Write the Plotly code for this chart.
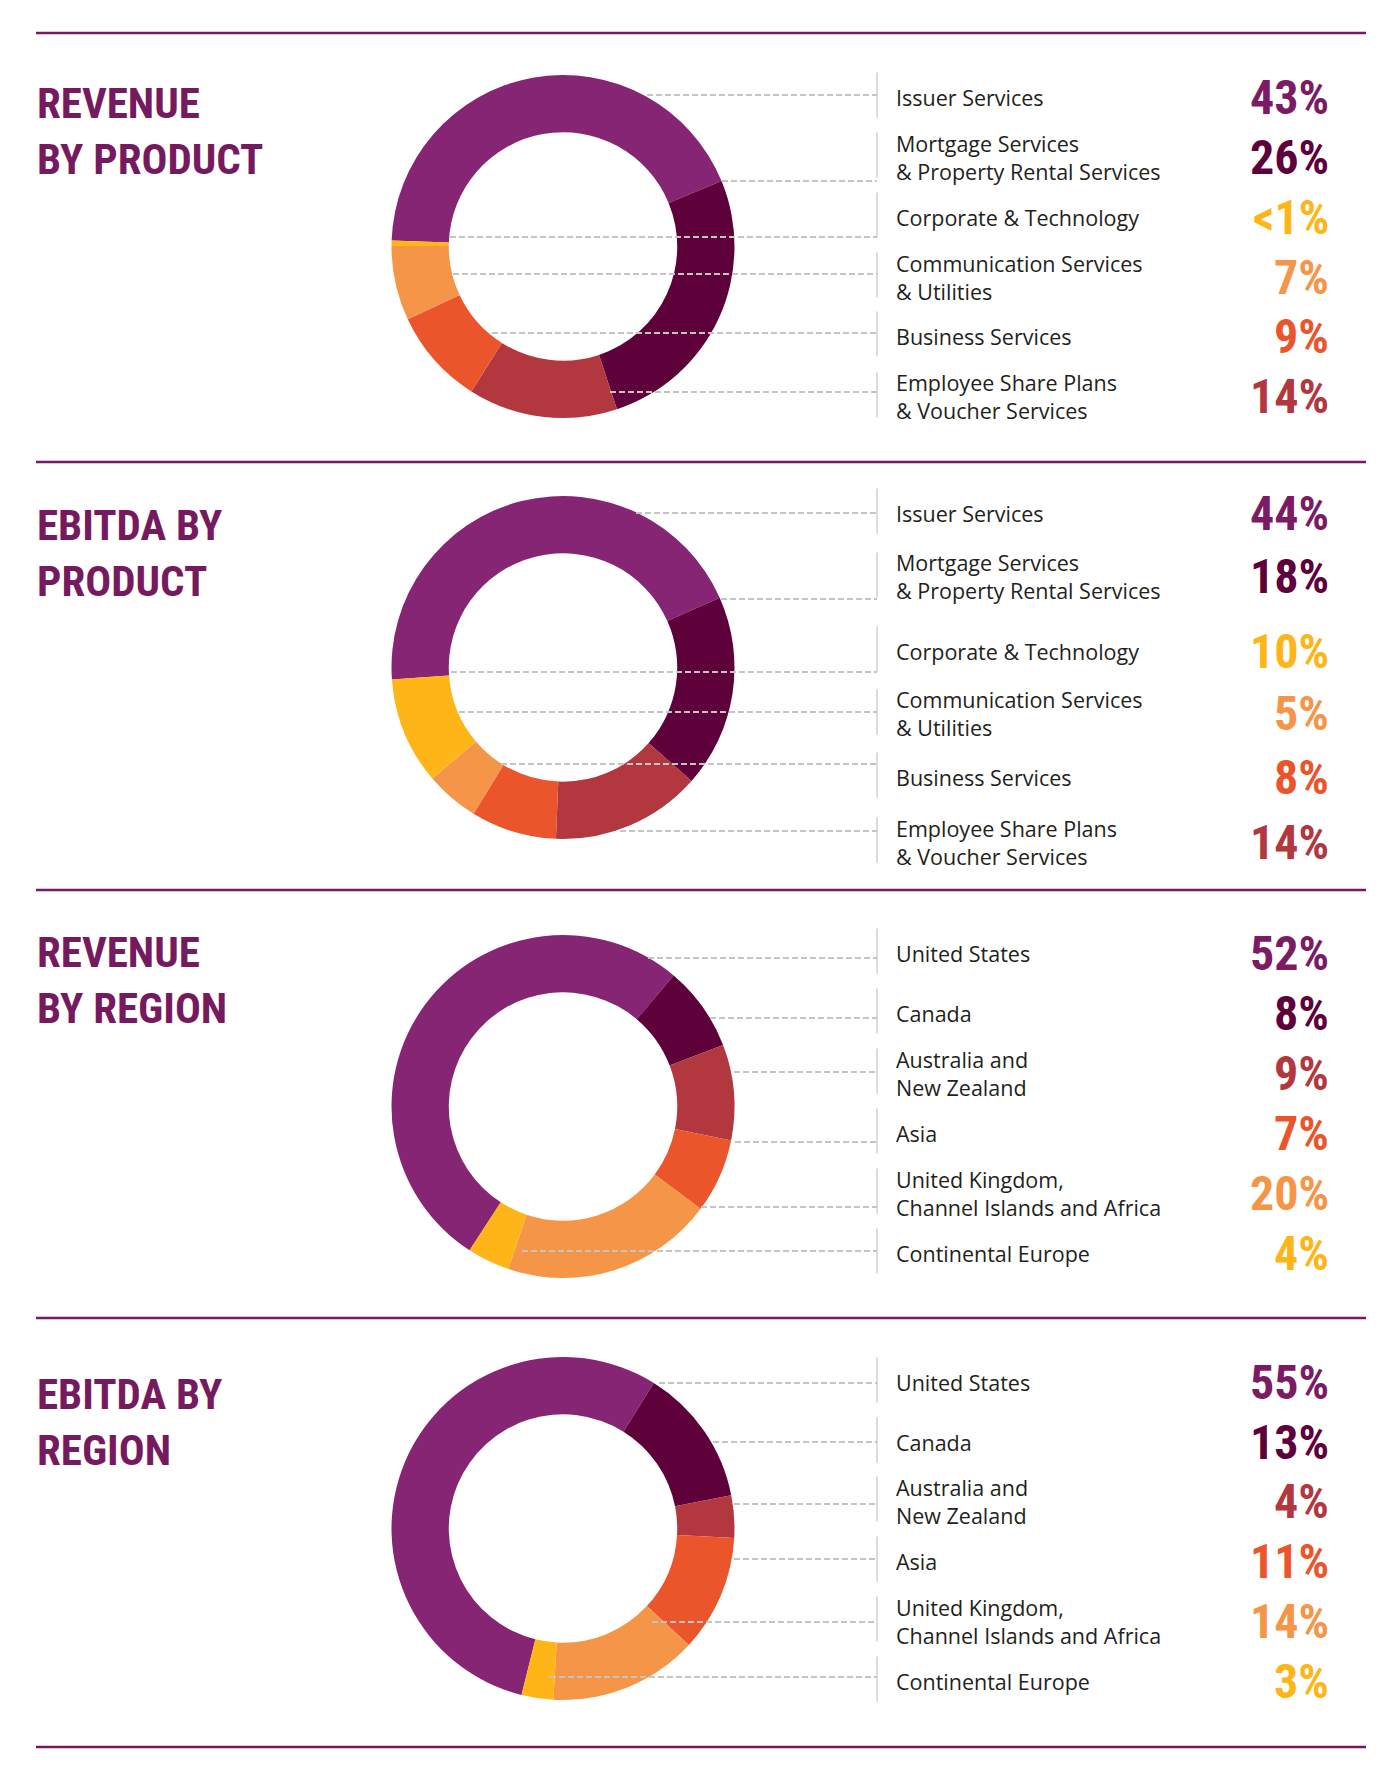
import plotly.graph_objects as go

W, H = 1400, 1778

# ---------------- data ----------------
product_labels = [
    "Issuer Services",
    "Mortgage Services<br>& Property Rental Services",
    "Corporate & Technology",
    "Communication Services<br>& Utilities",
    "Business Services",
    "Employee Share Plans<br>& Voucher Services",
]
region_labels = [
    "United States",
    "Canada",
    "Australia and<br>New Zealand",
    "Asia",
    "United Kingdom,<br>Channel Islands and Africa",
    "Continental Europe",
]

revenue_product = [43, 26, 0.5, 7, 9, 14]
revenue_product_text = ["43%", "26%", "<1%", "7%", "9%", "14%"]

ebitda_product = [44, 18, 10, 5, 8, 14]
ebitda_product_text = ["44%", "18%", "10%", "5%", "8%", "14%"]

revenue_region = [52, 8, 9, 7, 20, 4]
revenue_region_text = ["52%", "8%", "9%", "7%", "20%", "4%"]

ebitda_region = [55, 13, 4, 11, 14, 3]
ebitda_region_text = ["55%", "13%", "4%", "11%", "14%", "3%"]

section_titles = ["REVENUE<br>BY PRODUCT", "EBITDA BY<br>PRODUCT",
                  "REVENUE<br>BY REGION", "EBITDA BY<br>REGION"]

# ---------------- styles ----------------
PURPLE = "#862574"
DARK = "#5E003A"
BRICK = "#B3373E"
ORANGE = "#EB552C"
LIGHT = "#F59548"
YELLOW = "#FDB518"
TITLE_C = "#761A60"
PCT_PURPLE = "#7A1B64"

product_colors = [PURPLE, DARK, YELLOW, LIGHT, ORANGE, BRICK]
region_colors = [PURPLE, DARK, BRICK, ORANGE, LIGHT, YELLOW]
product_ring_order = [0, 1, 5, 4, 3, 2]   # clockwise order around the ring
region_ring_order = [0, 1, 2, 3, 4, 5]

sections = [
    dict(title=section_titles[0], labels=product_labels, values=revenue_product,
         text=revenue_product_text, colors=product_colors, order=product_ring_order,
         rotation=272, cy=246.5, title_y=131, rule=33,
         rows=[97, 157, 217, 277, 336, 397],
         leaders=[(95, 647), (181, 722), (237, 450), (274, 453), (333, 492), (392, 610)]),
    dict(title=section_titles[1], labels=product_labels, values=ebitda_product,
         text=ebitda_product_text, colors=product_colors, order=product_ring_order,
         rotation=266, cy=667.5, title_y=553, rule=462,
         rows=[513, 577, 651, 714, 777, 842],
         leaders=[(513, 636), (599, 721), (672, 451), (712, 459), (764, 501), (831, 620)]),
    dict(title=section_titles[2], labels=region_labels, values=revenue_region,
         text=revenue_region_text, colors=region_colors, order=region_ring_order,
         rotation=213, cy=1106.5, title_y=980, rule=890,
         rows=[953, 1013, 1073, 1133, 1193, 1253],
         leaders=[(958, 648), (1018, 710), (1072, 734), (1142, 735), (1207, 701), (1251, 522)]),
    dict(title=section_titles[3], labels=region_labels, values=ebitda_region,
         text=ebitda_region_text, colors=region_colors, order=region_ring_order,
         rotation=194, cy=1528.5, title_y=1422, rule=1318,
         rows=[1382, 1442, 1501, 1561, 1621, 1681],
         leaders=[(1383, 659), (1442, 713), (1504, 734), (1559, 734), (1622, 652), (1677, 550)]),
]
BOTTOM_RULE = 1747
CX, R, HOLE = 563, 171.5, 0.666
DIV_X, LABEL_X, PCT_X = 877, 894, 1331

COND = ("Roboto Condensed, Noto Sans Condensed, Open Sans Condensed, "
        "Liberation Sans Narrow, DejaVu Sans Condensed, Roboto, sans-serif")
LABEL_FONT = "Open Sans, Noto Sans, sans-serif"


def px(x):
    return x / W


def py(y):
    return 1 - y / H


fig = go.Figure()
shapes = []
annotations = []


def hline(y, x0, x1, color, width, dash="solid"):
    shapes.append(dict(type="line", xref="paper", yref="paper",
                       x0=px(x0), x1=px(x1), y0=py(y), y1=py(y),
                       line=dict(color=color, width=width, dash=dash), layer="above"))


for s in sections:
    vals = [s["values"][i] for i in s["order"]]
    cols = [s["colors"][i] for i in s["order"]]
    names = [s["labels"][i].replace("<br>", " ") for i in s["order"]]
    rot = s["rotation"]
    if rot > 180:
        rot -= 360
    fig.add_trace(go.Pie(
        labels=names, values=vals, sort=False, direction="clockwise",
        rotation=rot, hole=HOLE, textinfo="none", hoverinfo="skip",
        showlegend=False,
        marker=dict(colors=cols, line=dict(width=0)),
        domain=dict(x=[px(CX - R), px(CX + R)],
                    y=[py(s["cy"] + R), py(s["cy"] - R)]),
    ))

    # rule above section
    hline(s["rule"], 36, 1366, TITLE_C, 2.5)

    # title
    annotations.append(dict(xref="paper", yref="paper", x=px(35), y=py(s["title_y"]),
                            xanchor="left", yanchor="middle", align="left",
                            showarrow=False, text=s["title"],
                            font=dict(family=COND, size=43, color=TITLE_C, weight="bold")))

    for k in range(6):
        ry = s["rows"][k]
        # divider
        shapes.append(dict(type="line", xref="paper", yref="paper",
                           x0=px(DIV_X), x1=px(DIV_X), y0=py(ry - 24.5), y1=py(ry + 20.5),
                           line=dict(color="#D0D0D0", width=1.5), layer="above"))
        # leader
        ly, lx = s["leaders"][k]
        hline(ly, lx, DIV_X, "#C4C4C4", 1.8, "6px,3px")
        # label
        annotations.append(dict(xref="paper", yref="paper", x=px(LABEL_X), y=py(ry),
                                xanchor="left", yanchor="middle", align="left",
                                showarrow=False, text=s["labels"][k],
                                font=dict(family=LABEL_FONT, size=21.5, color="#231F20")))
        # percentage
        pc = s["colors"][k]
        if pc == PURPLE:
            pc = PCT_PURPLE
        annotations.append(dict(xref="paper", yref="paper", x=px(PCT_X), y=py(ry),
                                xanchor="right", yanchor="middle", align="right",
                                showarrow=False, text=s["text"][k].replace("<", "&lt;"),
                                font=dict(family=COND, size=48, color=pc, weight="bold")))

hline(BOTTOM_RULE, 36, 1366, TITLE_C, 2.5)

fig.update_layout(
    width=W, height=H, autosize=False,
    margin=dict(l=0, r=0, t=0, b=0),
    paper_bgcolor="white", plot_bgcolor="white",
    shapes=shapes, annotations=annotations,
    showlegend=False,
)

fig.write_html("out.html", config={"displayModeBar": False},
               post_script="document.body.style.margin='0px';")
